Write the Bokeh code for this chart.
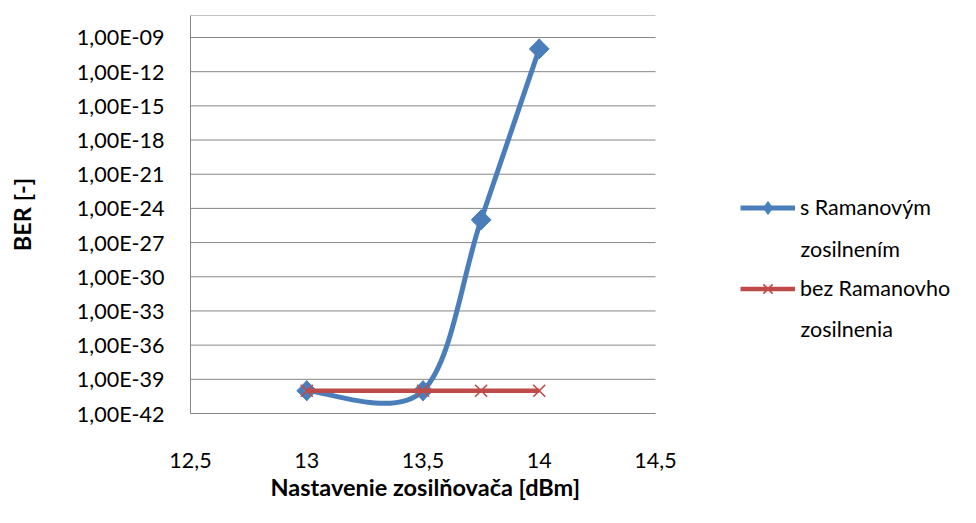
import math
from bokeh.plotting import figure
from bokeh.models import (FixedTicker, Legend, LegendItem, Label, Range1d, Title,
                          LinearAxis)
from bokeh.embed import file_html
from bokeh.resources import INLINE

# ---- data ----
x_ram = [13.0, 13.5, 13.75, 14.0]
ber_ram = [1e-40, 1e-40, 1e-25, 1e-10]
x_bez = [13.0, 13.5, 13.75, 14.0]
ber_bez = [1e-40, 1e-40, 1e-40, 1e-40]

legend_line1 = ["s Ramanovým", "bez Ramanovho"]
legend_line2 = ["zosilnením", "zosilnenia"]

x_ticks = [12.5, 13.0, 13.5, 14.0, 14.5]
x_tick_labels = ["12,5", "13", "13,5", "14", "14,5"]
y_ticks = [1e-42, 1e-39, 1e-36, 1e-33, 1e-30, 1e-27, 1e-24, 1e-21,
           1e-18, 1e-15, 1e-12, 1e-09]
y_tick_labels = ["1,00E-42", "1,00E-39", "1,00E-36", "1,00E-33", "1,00E-30",
                 "1,00E-27", "1,00E-24", "1,00E-21", "1,00E-18", "1,00E-15",
                 "1,00E-12", "1,00E-09"]
y_top = 10 ** -7.07
x_title = "Nastavenie zosilňovača [dBm]"
y_title = "BER [-]"

FONT = "Lato"
TICK_FS = "21.5px"
TITLE_FS = "23.5px"
BLUE = "#4A7EBB"
RED = "#BE4B48"
GRID = "#868686"

# layout (pixels): plot area 190..655 horizontally; frame extends to the right edge
W, H = 976, 523
LEFT, RIGHT_PA, TOP, BOTTOM = 190, 655, 15, 413
x_end = x_ticks[-1] + (W - RIGHT_PA) * (x_ticks[-1] - x_ticks[0]) / (RIGHT_PA - LEFT)

p = figure(width=W, height=H, y_axis_type="log", output_backend="svg",
           toolbar_location=None,
           x_range=Range1d(x_ticks[0], x_end), y_range=Range1d(1e-42, y_top),
           min_border_left=LEFT, min_border_right=0, min_border_top=TOP,
           min_border_bottom=H - BOTTOM)
p.outline_line_color = None
p.background_fill_color = "white"
p.border_fill_color = "white"

xax = p.xaxis[0]
yax = p.yaxis[0]
xax.ticker = FixedTicker(ticks=x_ticks)
xax.major_label_overrides = {t: l for t, l in zip(x_ticks, x_tick_labels)}
xax.bounds = (x_ticks[0], x_ticks[-1])
yax.ticker = FixedTicker(ticks=y_ticks)
yax.major_label_overrides = {t: l for t, l in zip(y_ticks, y_tick_labels)}
for ax in (xax, yax):
    ax.major_tick_line_color = None
    ax.minor_tick_line_color = None
    ax.major_tick_out = 0
    ax.major_tick_in = 0
    ax.minor_tick_out = 0
    ax.major_label_text_font = FONT
    ax.major_label_text_font_size = TICK_FS
    ax.major_label_text_color = "#000000"
    ax.axis_label_text_font = FONT
    ax.axis_label_text_font_size = TITLE_FS
    ax.axis_label_text_font_style = "bold"
    ax.axis_label_text_color = "#000000"
    ax.axis_line_color = GRID
    ax.axis_line_width = 1
yax.axis_label = y_title
yax.major_label_standoff = 26
yax.axis_label_standoff = 38
xax.major_label_standoff = 39

# empty spacer below the tick labels (no line, no ticks, no labels)
spacer = LinearAxis(ticker=FixedTicker(ticks=[]), axis_line_color=None,
                    major_tick_line_color=None, minor_tick_line_color=None,
                    major_tick_in=0, major_tick_out=17, minor_tick_in=0,
                    minor_tick_out=0, major_label_standoff=5)
p.add_layout(spacer, "below")

# x-axis title placed below, centred under the plot area
p.add_layout(Title(text=x_title, align="left", offset=80, standoff=0,
                   text_font=FONT, text_font_size=TITLE_FS, text_font_style="bold",
                   text_color="#000000"), "below")

# horizontal gridlines limited to the plot area
p.xgrid.grid_line_color = None
p.ygrid.grid_line_color = None
grid_y = y_ticks + [y_top]
p.segment(x0=[x_ticks[0]] * len(grid_y), x1=[x_ticks[-1]] * len(grid_y),
          y0=grid_y, y1=grid_y, line_color=GRID, line_width=1)

# ---- smoothed curve: Excel-like Catmull-Rom bezier through the data points (log space) ----
ly = [math.log10(v) for v in ber_ram]
n = len(x_ram)
bx0, by0, bx1, by1, bcx0, bcy0, bcx1, bcy1 = ([] for _ in range(8))
for i in range(n - 1):
    i0 = max(i - 1, 0)
    i3 = min(i + 2, n - 1)
    bx0.append(x_ram[i]); by0.append(ber_ram[i])
    bx1.append(x_ram[i + 1]); by1.append(ber_ram[i + 1])
    bcx0.append(x_ram[i] + (x_ram[i + 1] - x_ram[i0]) / 6)
    bcy0.append(10 ** (ly[i] + (ly[i + 1] - ly[i0]) / 6))
    bcx1.append(x_ram[i + 1] - (x_ram[i3] - x_ram[i]) / 6)
    bcy1.append(10 ** (ly[i + 1] - (ly[i3] - ly[i]) / 6))

r_ram_l = p.bezier(x0=bx0, y0=by0, x1=bx1, y1=by1, cx0=bcx0, cy0=bcy0, cx1=bcx1,
                   cy1=bcy1, line_color=BLUE, line_width=5)
# diamond markers (the "diamond" glyph supplies the legend symbol, the rotated square the plot symbol)
r_ram_d = p.scatter(x_ram, ber_ram, marker="diamond", size=20,
                    fill_color=BLUE, line_color=BLUE)
p.scatter(x_ram, ber_ram, marker="square", size=14, angle=math.pi / 4,
          fill_color=BLUE, line_color=BLUE)
r_bez_l = p.line(x_bez, ber_bez, line_color=RED, line_width=4.5)
r_bez_m = p.scatter(x_bez, ber_bez, marker="x", size=17, line_color=RED, line_width=1.6)

# ---- legend (right of the plot area) ----
legend = Legend(items=[LegendItem(label=legend_line1[0], renderers=[r_ram_l, r_ram_d]),
                       LegendItem(label=legend_line1[1], renderers=[r_bez_l, r_bez_m])],
                location=(550, 108.5), orientation="vertical",
                glyph_width=55, glyph_height=33, label_height=33, spacing=48,
                padding=0, margin=0, label_standoff=5,
                border_line_color=None, background_fill_alpha=0,
                label_text_font=FONT, label_text_font_size=TICK_FS,
                label_text_color="#000000")
p.add_layout(legend, "center")

for txt, yy in zip(legend_line2, (165, 85)):
    p.add_layout(Label(x=610, y=yy, x_units="screen", y_units="screen", text=txt,
                       text_font=FONT, text_font_size=TICK_FS, text_color="#000000",
                       text_baseline="alphabetic"))

open("out.html", "w").write(file_html(p, INLINE))
